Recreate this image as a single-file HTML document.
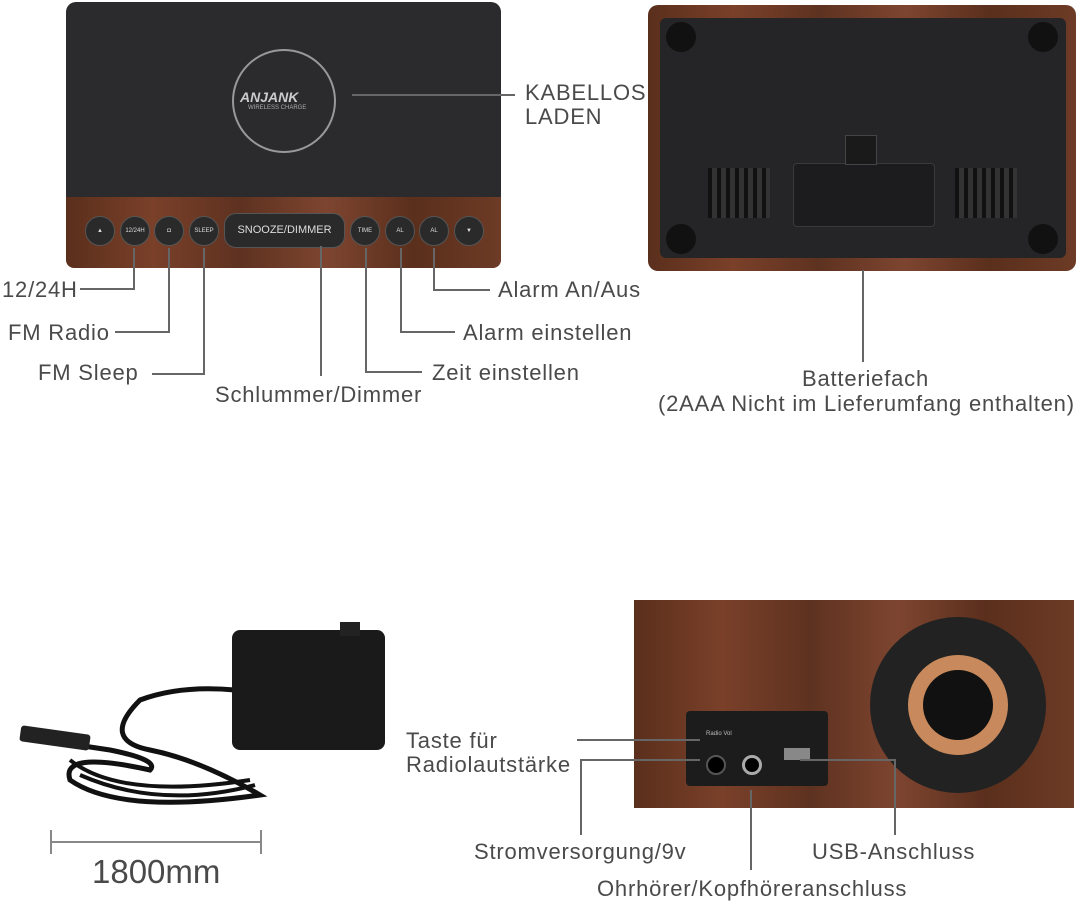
<!DOCTYPE html>
<html><head><meta charset="utf-8"><style>
body{margin:0;width:1080px;height:904px;background:#fff;position:relative;overflow:hidden;font-family:"Liberation Sans",sans-serif;color:#4a4a4a}
.a{position:absolute}
.t{position:absolute;font-size:22px;letter-spacing:0.8px;white-space:nowrap;line-height:1;margin-top:-2px}
.h{position:absolute;height:2px;background:#666}
.v{position:absolute;width:2px;background:#666}
.wood{background:linear-gradient(90deg,#5a2f1c,#7a4029 20%,#5e3220 40%,#7d4530 60%,#5a2f1c 80%,#6d3b26)}
.btn{position:absolute;top:216px;width:28px;height:28px;border-radius:50%;background:#2a2a2a;border:1px solid #555;color:#ddd;font-size:6px;text-align:center;line-height:28px}
</style></head><body>
<div class="a" style="left:66px;top:2px;width:435px;height:200px;background:#2b2b2d;border-radius:10px 10px 0 0"></div>
<div class="a wood" style="left:66px;top:197px;width:435px;height:71px;border-radius:0 0 8px 8px"></div>
<div class="a" style="left:232px;top:49px;width:100px;height:100px;border-radius:50%;border:2px solid #999"></div>
<div class="a" style="left:240px;top:89px;font-size:14px;font-weight:bold;font-style:italic;color:#ccc">ANJANK</div>
<div class="a" style="left:248px;top:105px;font-size:6px;color:#aaa">WIRELESS CHARGE</div>
<div class="btn" style="left:85px">▲</div>
<div class="btn" style="left:120px">12/24H</div>
<div class="btn" style="left:154px">◘</div>
<div class="btn" style="left:189px">SLEEP</div>
<div class="a" style="left:224px;top:213px;width:119px;height:33px;border-radius:12px;background:#2a2a2a;border:1px solid #555;color:#ddd;font-size:11px;text-align:center;line-height:33px">SNOOZE/DIMMER</div>
<div class="btn" style="left:350px">TIME</div>
<div class="btn" style="left:385px">AL</div>
<div class="btn" style="left:419px">AL</div>
<div class="btn" style="left:454px">▼</div>
<div class="h" style="left:352px;top:94px;width:163px"></div>
<div class="t" style="left:525px;top:84px">KABELLOS</div>
<div class="t" style="left:525px;top:108px">LADEN</div>

<div class="t" style="left:2px;top:281px">12/24H</div>
<div class="h" style="left:80px;top:288px;width:55px"></div><div class="v" style="left:133px;top:248px;height:42px"></div>
<div class="t" style="left:8px;top:324px">FM Radio</div>
<div class="h" style="left:115px;top:331px;width:55px"></div><div class="v" style="left:168px;top:248px;height:85px"></div>
<div class="t" style="left:38px;top:364px">FM Sleep</div>
<div class="h" style="left:152px;top:373px;width:53px"></div><div class="v" style="left:203px;top:248px;height:127px"></div>
<div class="t" style="left:215px;top:386px">Schlummer/Dimmer</div>
<div class="v" style="left:320px;top:246px;height:130px"></div>
<div class="t" style="left:432px;top:364px">Zeit einstellen</div>
<div class="h" style="left:365px;top:371px;width:57px"></div><div class="v" style="left:365px;top:248px;height:125px"></div>
<div class="t" style="left:463px;top:324px">Alarm einstellen</div>
<div class="h" style="left:400px;top:331px;width:55px"></div><div class="v" style="left:400px;top:248px;height:85px"></div>
<div class="t" style="left:498px;top:281px">Alarm An/Aus</div>
<div class="h" style="left:433px;top:289px;width:57px"></div><div class="v" style="left:433px;top:248px;height:43px"></div>

<div class="a wood" style="left:648px;top:5px;width:428px;height:266px;border-radius:10px"></div>
<div class="a" style="left:660px;top:18px;width:406px;height:240px;background:#252527;border-radius:6px"></div>
<div class="a" style="left:666px;top:22px;width:30px;height:30px;border-radius:50%;background:#111"></div>
<div class="a" style="left:1028px;top:22px;width:30px;height:30px;border-radius:50%;background:#111"></div>
<div class="a" style="left:666px;top:224px;width:30px;height:30px;border-radius:50%;background:#111"></div>
<div class="a" style="left:1028px;top:224px;width:30px;height:30px;border-radius:50%;background:#111"></div>
<div class="a" style="left:708px;top:168px;width:62px;height:50px;background:repeating-linear-gradient(90deg,#111 0 4px,#333 4px 9px)"></div>
<div class="a" style="left:955px;top:168px;width:62px;height:50px;background:repeating-linear-gradient(90deg,#111 0 4px,#333 4px 9px)"></div>
<div class="a" style="left:793px;top:163px;width:140px;height:62px;background:#1c1c1e;border:1px solid #3a3a3a;border-radius:4px"></div>
<div class="a" style="left:845px;top:135px;width:30px;height:28px;background:#1a1a1a;border:1px solid #444"></div>
<div class="v" style="left:862px;top:270px;height:92px"></div>
<div class="t" style="left:802px;top:370px">Batteriefach</div>
<div class="t" style="left:658px;top:395px">(2AAA Nicht im Lieferumfang enthalten)</div>

<svg class="a" style="left:0;top:600px" width="400" height="220">
<path d="M30 138 L110 150 Q160 160 150 170 Q60 150 70 180 Q120 215 260 195 Q200 160 150 150 Q100 140 140 100 Q180 85 235 90" fill="none" stroke="#111" stroke-width="5"/>
<path d="M70 160 Q120 200 250 180 M80 175 Q160 210 255 185" fill="none" stroke="#111" stroke-width="4"/>
<rect x="20" y="130" width="70" height="16" rx="3" fill="#222" transform="rotate(8 55 138)"/>
<rect x="232" y="30" width="153" height="120" rx="8" fill="#1a1a1a"/>
<rect x="340" y="22" width="20" height="14" fill="#222"/>
</svg>
<div class="h" style="left:50px;top:841px;width:212px;background:#888"></div>
<div class="v" style="left:50px;top:830px;height:24px;background:#888"></div>
<div class="v" style="left:260px;top:830px;height:24px;background:#888"></div>
<div class="a" style="left:92px;top:855px;font-size:33px;line-height:1">1800mm</div>

<div class="a wood" style="left:634px;top:600px;width:440px;height:208px"></div>
<div class="a" style="left:870px;top:617px;width:176px;height:176px;border-radius:50%;background:#222"></div>
<div class="a" style="left:908px;top:655px;width:100px;height:100px;border-radius:50%;background:#c88a5c"></div>
<div class="a" style="left:923px;top:670px;width:70px;height:70px;border-radius:50%;background:#111"></div>
<div class="a" style="left:686px;top:711px;width:142px;height:75px;background:#1c1c1c;border-radius:4px"></div>
<div class="a" style="left:706px;top:731px;font-size:6px;color:#bbb">Radio Vol</div>
<div class="a" style="left:706px;top:755px;width:16px;height:16px;border-radius:50%;background:#000;border:2px solid #555"></div>
<div class="a" style="left:742px;top:755px;width:14px;height:14px;border-radius:50%;background:#000;border:3px solid #aaa"></div>
<div class="a" style="left:784px;top:748px;width:26px;height:12px;background:#888"></div>
<div class="t" style="left:406px;top:732px">Taste für</div>
<div class="t" style="left:406px;top:756px">Radiolautstärke</div>
<div class="h" style="left:577px;top:739px;width:123px"></div>
<div class="t" style="left:474px;top:843px">Stromversorgung/9v</div>
<div class="h" style="left:580px;top:759px;width:120px"></div><div class="v" style="left:580px;top:759px;height:76px"></div>
<div class="t" style="left:812px;top:843px">USB-Anschluss</div>
<div class="h" style="left:800px;top:759px;width:95px"></div><div class="v" style="left:894px;top:759px;height:76px"></div>
<div class="t" style="left:597px;top:880px">Ohrhörer/Kopfhöreranschluss</div>
<div class="v" style="left:750px;top:790px;height:80px"></div>
</body></html>
